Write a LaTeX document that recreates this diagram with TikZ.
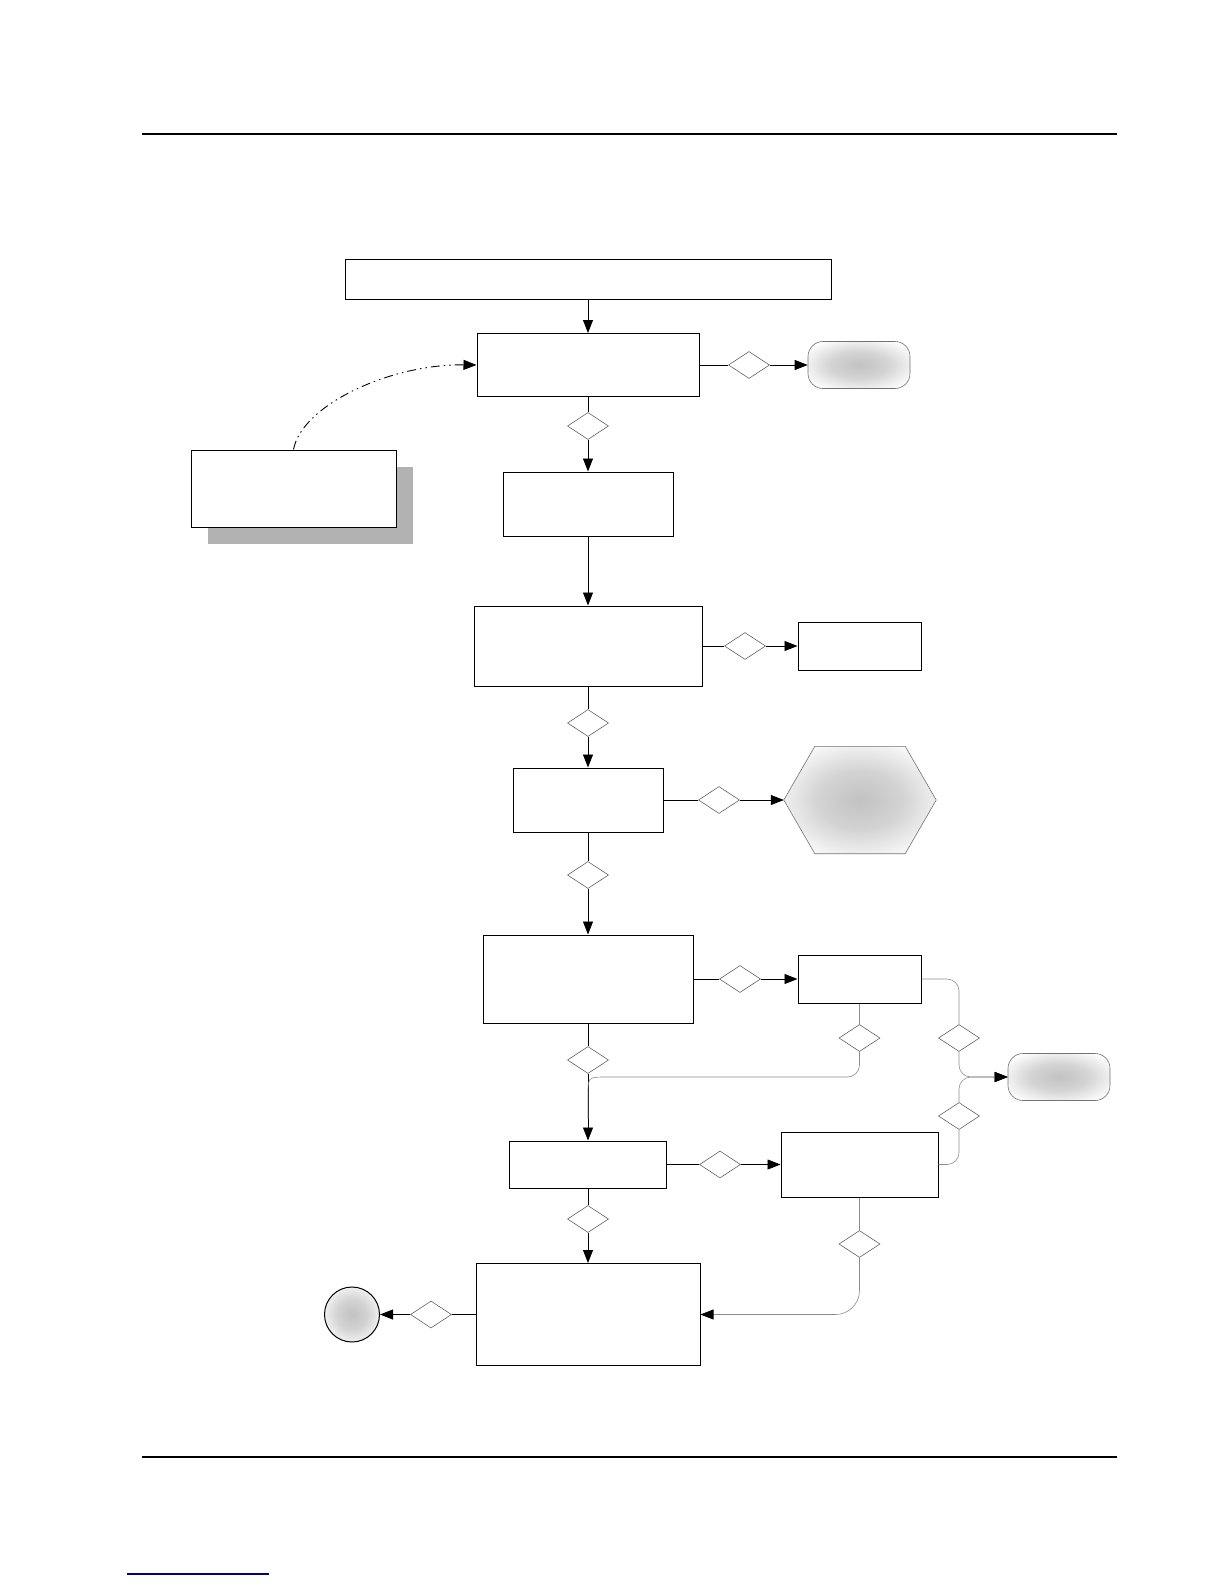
\documentclass[tikz,border=0pt]{standalone}
\usepackage{tikz}
\usetikzlibrary{positioning, shapes.geometric, arrows.meta, calc, shadows}
\pgfdeclareradialshading{softglow}{\pgfpoint{0bp}{0bp}}{color(0bp)=(black!24); color(14bp)=(black!17); color(31bp)=(white); color(50bp)=(white)}

\begin{document}
\begin{tikzpicture}[x=1pt, y=-1pt, >={Triangle[length=13pt, width=10pt]},
    box/.style={rectangle, draw, line width=1pt, fill=white, inner sep=0pt},
    gate/.style={diamond, draw=black!70, line width=0.5pt, fill=white, inner sep=0pt,
      minimum width=41pt, minimum height=27pt},
    softfill/.style={shade, shading=softglow},
    term/.style={rectangle, rounded corners=15pt, draw=black!55, line width=0.6pt,
      minimum width=102pt, minimum height=47pt, softfill},
    flow/.style={->, line width=0.8pt},
    wire/.style={draw=black!45, line width=0.6pt, rounded corners=12pt},
    tipk/.style={-{Triangle[length=13pt, width=10pt, color=black]}}]
      \useasboundingbox (0,0) rectangle (1224,1584);

      % Page rules
      \draw[line width=2pt] (142,134) -- (1117,134);
      \draw[line width=2pt] (142,1457) -- (1117,1457);
      \draw[line width=1.3pt, blue!55!black] (127,1574) -- (269,1574);

      % Boxes
      \node[box, minimum width=486pt, minimum height=40pt] (top) at (588,279) {};
      \node[box, minimum width=222pt, minimum height=63pt] (A) at (588,365) {};
      \node[box, minimum width=170pt, minimum height=64pt] (B) at (588,504) {};
      \node[box, minimum width=228pt, minimum height=80pt] (C) at (588,646) {};
      \node[box, minimum width=123pt, minimum height=48pt] (C2) at (859.5,646) {};
      \node[box, minimum width=150pt, minimum height=64pt] (D) at (588,800) {};
      \node[box, minimum width=210pt, minimum height=88pt] (E) at (588,979) {};
      \node[box, minimum width=123pt, minimum height=48pt] (E2) at (859.5,979) {};
      \node[box, minimum width=157pt, minimum height=47pt] (F) at (588,1164.5) {};
      \node[box, minimum width=157pt, minimum height=65pt] (G) at (859.5,1164.5) {};
      \node[box, minimum width=224pt, minimum height=102pt] (H) at (588,1314.5) {};

      % Note with shadow
      \node[box, minimum width=205pt, minimum height=77pt,
        drop shadow={shadow xshift=17pt, shadow yshift=-17pt, fill=black!30, opacity=1}]
        (note) at (293.5,488.5) {};

      % Terminals
      \node[term] (T1) at (859,365) {};
      \node[term] (T2) at (1059,1077) {};
      \node[minimum width=152pt, minimum height=107pt, inner sep=0pt] (hex) at (860,800) {};
      \path[draw=black!55, line width=0.6pt, softfill] (hex.west)
        -- ($(hex.north west)+(31,0)$) -- ($(hex.north east)+(-31,0)$) -- (hex.east)
        -- ($(hex.south east)+(-31,0)$) -- ($(hex.south west)+(31,0)$) -- cycle;
      \node[circle, draw, line width=1pt, minimum size=55pt, inner sep=0pt, softfill]
        (halt) at (352,1314.5) {};

      % Decisions
      \node[gate] (dA1) at (749,365) {};
      \node[gate] (dA2) at (588,426) {};
      \node[gate] (dC1) at (745,646) {};
      \node[gate] (dC2) at (588,723) {};
      \node[gate] (dD1) at (719,800) {};
      \node[gate] (dD2) at (588,875) {};
      \node[gate] (dE1) at (740,979) {};
      \node[gate] (dE2) at (588,1060) {};
      \node[gate] (dE2b) at (859.5,1038) {};
      \node[gate] (dT1) at (959,1038) {};
      \node[gate] (dT2) at (959,1116) {};
      \node[gate] (dF1) at (720,1164.5) {};
      \node[gate] (dF2) at (588,1219) {};
      \node[gate] (dG) at (859.5,1244) {};
      \node[gate] (dH) at (431,1314.5) {};
      \coordinate (bendEF) at (588,1077);
      \coordinate (mergeEF) at (588,1115);

      % Transitions
      \draw[flow] (top.south) -- (A.north);
      \draw[flow] (A.east) -- (dA1.west) (dA1.east) -- (T1.west);
      \draw[flow] (A.south) -- (dA2.north) (dA2.south) -- (B.north);
      \draw[flow] (B.south) -- (C.north);
      \draw[flow] (C.east) -- (dC1.west) (dC1.east) -- (C2.west);
      \draw[flow] (C.south) -- (dC2.north) (dC2.south) -- (D.north);
      \draw[flow] (D.east) -- (dD1.west) (dD1.east) -- (hex.west);
      \draw[flow] (D.south) -- (dD2.north) (dD2.south) -- (E.north);
      \draw[flow] (E.east) -- (dE1.west) (dE1.east) -- (E2.west);
      \draw[flow] (E.south) -- (dE2.north) (dE2.south) -- (F.north);
      \draw[flow] (F.east) -- (dF1.west) (dF1.east) -- (G.west);
      \draw[flow] (F.south) -- (dF2.north) (dF2.south) -- (H.north);
      \draw[flow] (H.west) -- (dH.east) (dH.west) -- (halt.east);

      % Side returns
      \draw[wire] (E2.south) -- (dE2b.north);
      \draw[wire] (dE2b.south) |- ($(bendEF)+(30,0)$)
        .. controls (bendEF) .. ($(bendEF)+(0,30)$) -- (mergeEF);
      \draw[wire] (E2.east) -| (dT1.north);
      \draw[wire, tipk] (dT1.south) |- (T2.west);
      \draw[wire] (G.east) -| (dT2.south);
      \draw[wire, tipk] (dT2.north) |- (T2.west);
      \draw[wire] (G.south) -- (dG.north);
      \draw[wire, tipk, rounded corners=24pt] (dG.south) |- (H.east);

      % Annotation
      \draw[->, line width=0.9pt, dash pattern=on 9pt off 4pt on 1.5pt off 4pt on 1.5pt off 4pt]
        (note.north) .. controls (302,405) and (390,364) .. (A.west);

    \end{tikzpicture}
\end{document}
